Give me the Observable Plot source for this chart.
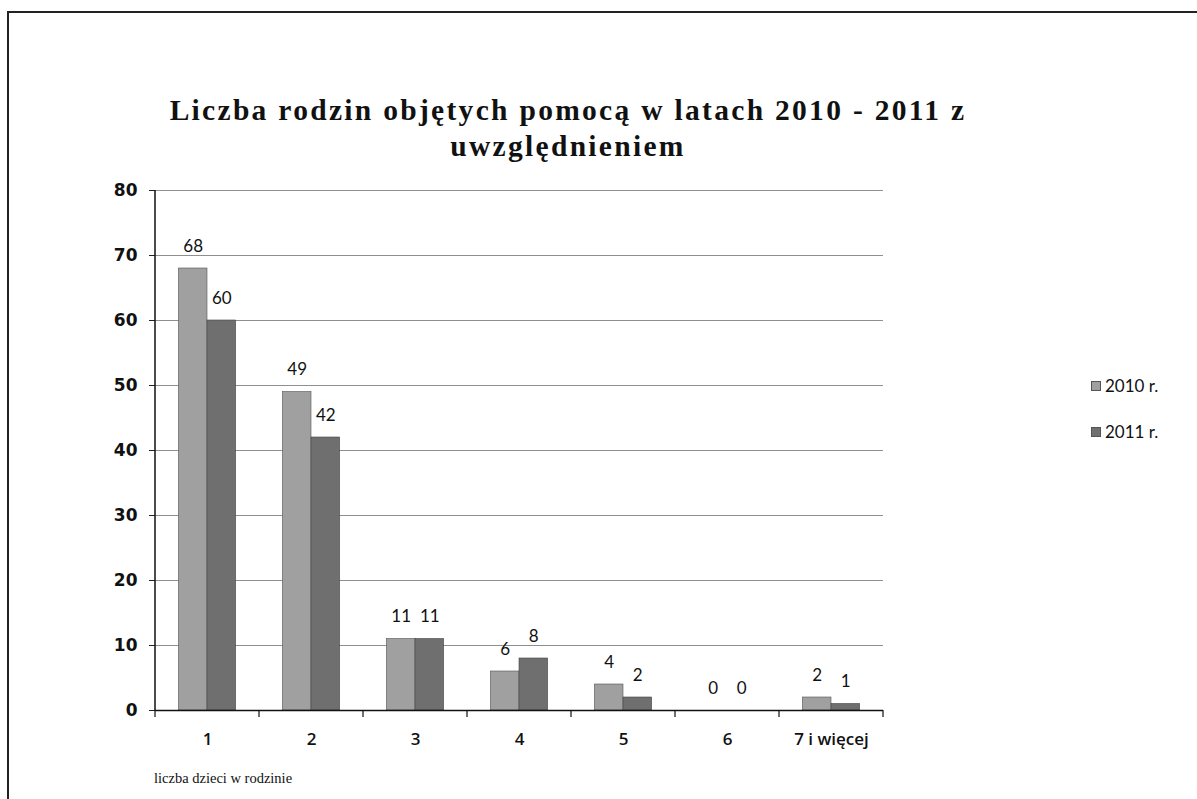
<!DOCTYPE html>
<html>
<head>
<meta charset="utf-8">
<script src="https://cdn.jsdelivr.net/npm/d3@7"></script>
<script src="https://cdn.jsdelivr.net/npm/@observablehq/plot@0.6"></script>
<style>
  html, body { margin: 0; padding: 0; background: #fff; }
  #wrap { position: relative; width: 1197px; height: 799px; overflow: hidden; background: #fff; }
  #border { position: absolute; left: 7px; top: 11px; width: 1200px; height: 800px; border-top: 2px solid #222; border-left: 2px solid #222; }
  #title { position: absolute; left: 0; top: 92px; width: 1136px; text-align: center; font-family: "Liberation Serif", serif; font-weight: bold; font-size: 29.5px; letter-spacing: 2.3px; line-height: 36px; color: #111; }
  #xlabel { position: absolute; left: 154px; top: 770px; font-family: "Liberation Serif", serif; font-size: 14.5px; color: #111; }
  #legend { position: absolute; left: 1091px; top: 374px; font-family: "Lato", sans-serif; font-size: 17px; color: #111; }
  #legend div { display: flex; align-items: center; height: 23px; margin-bottom: 23px; }
  #legend span.sw { display: inline-block; width: 10px; height: 10px; margin-right: 4px; border: 1px solid #555; box-sizing: border-box; }
  #chart { position: absolute; left: 0; top: 0; }
</style>
</head>
<body>
<div id="wrap">
  <div id="chart"></div>
  <div id="border"></div>
  <div id="title">Liczba rodzin objętych pomocą w latach 2010 - 2011 z<br>uwzględnieniem</div>
  <div id="xlabel">liczba dzieci w rodzinie</div>
  <div id="legend"></div>
</div>
<script>
const categories = ["1", "2", "3", "4", "5", "6", "7 i więcej"];
const values2010 = [68, 49, 11, 6, 4, 0, 2];
const values2011 = [60, 42, 11, 8, 2, 0, 1];
const seriesNames = ["2010 r.", "2011 r."];
const seriesColors = ["#a0a0a0", "#6f6f6f"];
const yTicks = [0, 10, 20, 30, 40, 50, 60, 70, 80];

const W = 1197, H = 799, mL = 155, mR = 314, mT = 190, mB = 89;
const step = (W - mL - mR) / categories.length;
const barW = step * 0.275;
const gOff = (step - 2 * barW) / 2;

const d2010 = categories.map((c, i) => ({cat: c, v: values2010[i], s: seriesNames[0]}));
const d2011 = categories.map((c, i) => ({cat: c, v: values2011[i], s: seriesNames[1]}));

const chart = Plot.plot({
  width: W, height: H,
  marginLeft: mL, marginRight: mR, marginTop: mT, marginBottom: mB,
  style: {background: "transparent", color: "#111"},
  x: {domain: categories, padding: 0, tickSize: 0, tickPadding: 22, label: null},
  y: {domain: [0, 80], ticks: yTicks, tickSize: 6, tickPadding: 12, label: null},
  color: {domain: seriesNames, range: seriesColors},
  marks: [
    Plot.ruleY(yTicks.filter(t => t > 0), {stroke: "#8f8f8f", strokeWidth: 1.2}),
    Plot.barY(d2010, {x: "cat", y: "v", fill: "s", stroke: "#555", strokeWidth: 0.6,
      insetLeft: gOff, insetRight: step - gOff - barW}),
    Plot.barY(d2011, {x: "cat", y: "v", fill: "s", stroke: "#444", strokeWidth: 0.6,
      insetLeft: gOff + barW, insetRight: gOff}),
    Plot.text(d2010, {x: "cat", y: "v", text: d => String(d.v), dx: -barW / 2, dy: -22,
      fontSize: 17, fontFamily: "Lato, sans-serif", fill: "#111"}),
    Plot.text(d2011, {x: "cat", y: "v", text: d => String(d.v), dx: barW / 2, dy: -22,
      fontSize: 17, fontFamily: "Lato, sans-serif", fill: "#111"}),
    Plot.ruleY([0], {stroke: "#111", strokeWidth: 1.5})
  ]
});
document.getElementById("chart").appendChild(chart);

// axis styling and boundary ticks derived from the x scale
const svg = d3.select(chart);
svg.selectAll('[aria-label^="y-axis"] text')
  .style("font-family", "DejaVu Sans, sans-serif").style("font-size", "17px").style("font-weight", "bold");
svg.selectAll('[aria-label^="x-axis"] text')
  .style("font-family", "Open Sans, sans-serif").style("font-size", "17px").style("font-weight", "600");
svg.selectAll('[aria-label^="y-axis"] line, [aria-label^="y-axis"] path').attr("stroke", "#222");

const xs = chart.scale("x");
const ys = chart.scale("y");
const y0 = ys.apply(0), yTop = ys.apply(80);
const bounds = categories.map(c => xs.apply(c)).concat([xs.apply(categories[categories.length - 1]) + xs.step]);
const g = svg.append("g").attr("stroke", "#111");
g.append("line").attr("x1", bounds[0]).attr("x2", bounds[0]).attr("y1", yTop).attr("y2", y0).attr("stroke-width", 1.5);
g.selectAll("line.tk").data(bounds).join("line").attr("class", "tk")
  .attr("x1", d => d).attr("x2", d => d).attr("y1", y0).attr("y2", y0 + 7).attr("stroke-width", 1.2);

// legend
const leg = d3.select("#legend");
seriesNames.forEach((s, i) => {
  const row = leg.append("div");
  row.append("span").attr("class", "sw").style("background", seriesColors[i]);
  row.append("span").text(s);
});
</script>
</body>
</html>
